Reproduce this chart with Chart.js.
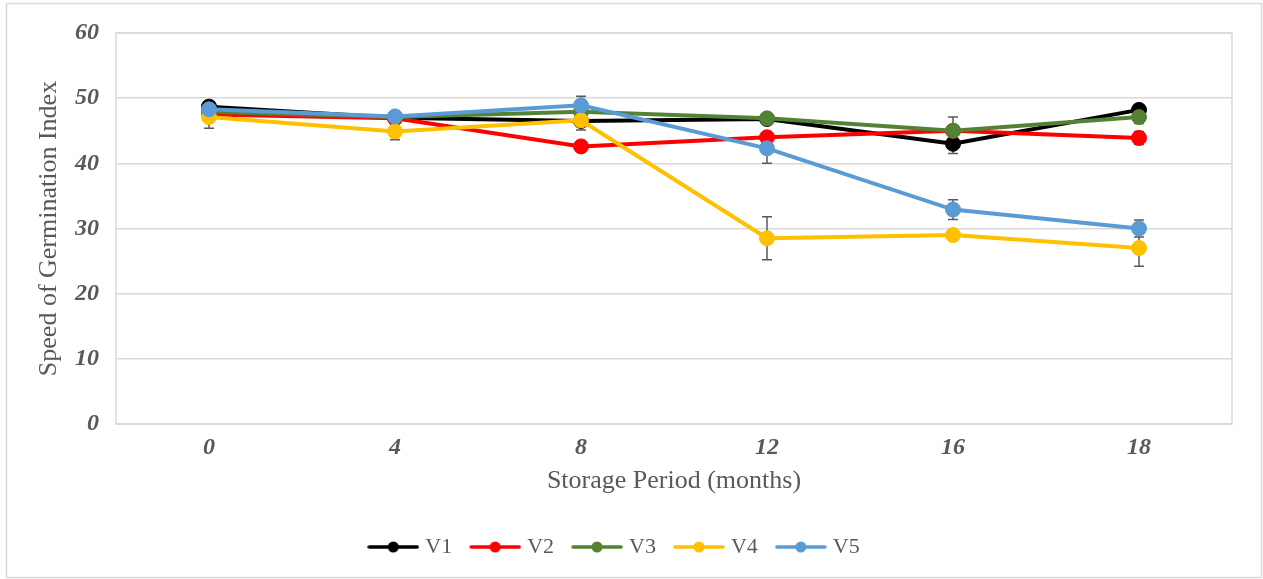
<!DOCTYPE html>
<html>
<head>
<meta charset="utf-8">
<script src="https://cdn.jsdelivr.net/npm/chart.js@4"></script>
<style>
  html, body { margin: 0; padding: 0; background: #ffffff; }
  #wrap { position: relative; width: 1263px; height: 579px; }
</style>
</head>
<body>
<div id="wrap"><canvas id="sgiChart"></canvas></div>
<script>
const months = ['0', '4', '8', '12', '16', '18'];
const seriesNames = ['V1', 'V2', 'V3', 'V4', 'V5'];
const seriesColors = ['#000000', '#ff0000', '#548235', '#ffc000', '#5b9bd5'];

const v1 = [48.7, 47.0, 46.5, 46.8, 43.0, 48.2];
const v2 = [47.5, 46.9, 42.6, 44.0, 45.0, 43.9];
const v3 = [47.9, 47.1, 47.9, 46.9, 45.0, 47.1];
const v4 = [47.1, 44.9, 46.6, 28.5, 29.0, 27.0];
const v5 = [48.3, 47.2, 48.9, 42.3, 32.9, 30.0];

// standard error for each point
const e1 = [0.8, 0.5, 0.8, 0.8, 1.5, 0.7];
const e2 = [0.6, 0.8, 0.8, 0.8, 0.6, 1.0];
const e3 = [0.5, 0.5, 0.6, 0.8, 2.1, 1.0];
const e4 = [1.7, 1.3, 1.5, 3.3, 0.7, 2.8];
const e5 = [0.6, 0.6, 1.4, 2.3, 1.5, 1.3];

const yTicks = [0, 10, 20, 30, 40, 50, 60];

const values = [v1, v2, v3, v4, v5];
const errors = [e1, e2, e3, e4, e5];

const GRID = '#d9d9d9';
const TEXT = '#595959';
const SERIF = '"Liberation Serif", "Times New Roman", serif';

// little line-with-marker swatch for the legend
function swatch(color) {
  const c = document.createElement('canvas');
  c.width = 52; c.height = 14;
  const g = c.getContext('2d');
  g.strokeStyle = color;
  g.lineWidth = 3.5;
  g.lineCap = 'round';
  g.beginPath(); g.moveTo(2, 7); g.lineTo(50, 7); g.stroke();
  g.fillStyle = color;
  g.beginPath(); g.arc(26, 7, 5.5, 0, Math.PI * 2); g.fill();
  return c;
}

const errorBars = {
  id: 'errorBars',
  beforeDatasetsDraw(chart) {
    const { ctx, scales: { y } } = chart;
    ctx.save();
    ctx.strokeStyle = TEXT;
    ctx.lineWidth = 1.5;
    chart.data.datasets.forEach((ds, i) => {
      const meta = chart.getDatasetMeta(i);
      meta.data.forEach((pt, j) => {
        const err = ds.errors[j];
        const top = y.getPixelForValue(ds.data[j] + err);
        const bot = y.getPixelForValue(ds.data[j] - err);
        ctx.beginPath();
        ctx.moveTo(pt.x, top); ctx.lineTo(pt.x, bot);
        ctx.moveTo(pt.x - 5, top); ctx.lineTo(pt.x + 5, top);
        ctx.moveTo(pt.x - 5, bot); ctx.lineTo(pt.x + 5, bot);
        ctx.stroke();
      });
    });
    ctx.restore();
  }
};

const frames = {
  id: 'frames',
  beforeDraw(chart) {
    const { ctx, chartArea: a } = chart;
    ctx.save();
    ctx.strokeStyle = GRID;
    ctx.lineWidth = 1.5;
    ctx.strokeRect(6.5, 3.5, 1255, 574);
    ctx.strokeRect(a.left, a.top, a.right - a.left, a.bottom - a.top);
    ctx.restore();
  }
};

new Chart(document.getElementById('sgiChart'), {
  type: 'line',
  data: {
    labels: months,
    datasets: seriesNames.map((name, i) => ({
      label: name,
      data: values[i],
      errors: errors[i],
      borderColor: seriesColors[i],
      backgroundColor: seriesColors[i],
      pointBackgroundColor: seriesColors[i],
      pointBorderColor: seriesColors[i],
      pointStyle: 'circle',
      borderWidth: 4,
      pointRadius: 7.5,
      pointHoverRadius: 7.5,
      pointBorderWidth: 1,
      tension: 0,
      order: seriesNames.length - i
    }))
  },
  options: {
    responsive: true,
    maintainAspectRatio: false,
    animation: false,
    layout: { padding: { top: 33, right: 31, bottom: 11, left: 0 } },
    plugins: {
      tooltip: { enabled: false },
      legend: {
        position: 'bottom',
        labels: {
          usePointStyle: true,
          pointStyleWidth: 42,
          boxHeight: 14,
          padding: 22,
          color: TEXT,
          font: { family: SERIF, size: 22 },
          sort: (a, b) => a.datasetIndex - b.datasetIndex,
          generateLabels(chart) {
            return chart.data.datasets.map((ds, i) => ({
              text: ds.label,
              datasetIndex: i,
              pointStyle: swatch(ds.borderColor),
              fillStyle: ds.borderColor,
              strokeStyle: ds.borderColor,
              fontColor: TEXT,
              lineWidth: 0,
              hidden: false
            }));
          }
        }
      }
    },
    scales: {
      x: {
        offset: true,
        grid: { display: false, drawTicks: false },
        border: { display: false },
        ticks: {
          padding: 9,
          color: TEXT,
          font: { family: SERIF, size: 24, weight: 'bold', style: 'italic' }
        },
        title: {
          display: true,
          text: 'Storage Period (months)',
          color: TEXT,
          padding: { top: 0, bottom: 17 },
          font: { family: SERIF, size: 26 }
        },
        afterFit(scale) { scale.height = 90; }
      },
      y: {
        min: 0,
        max: 60,
        afterBuildTicks(scale) { scale.ticks = yTicks.map(v => ({ value: v })); },
        grid: { color: GRID, lineWidth: 1.5, drawTicks: false },
        border: { display: false },
        ticks: {
          padding: 17,
          color: TEXT,
          font: { family: SERIF, size: 24, weight: 'bold', style: 'italic' }
        },
        title: {
          display: true,
          text: 'Speed of Germination Index',
          color: TEXT,
          padding: { top: 34, bottom: 0 },
          font: { family: SERIF, size: 26 }
        },
        afterFit(scale) { scale.width = 116; }
      }
    }
  },
  plugins: [frames, errorBars]
});
</script>
</body>
</html>
